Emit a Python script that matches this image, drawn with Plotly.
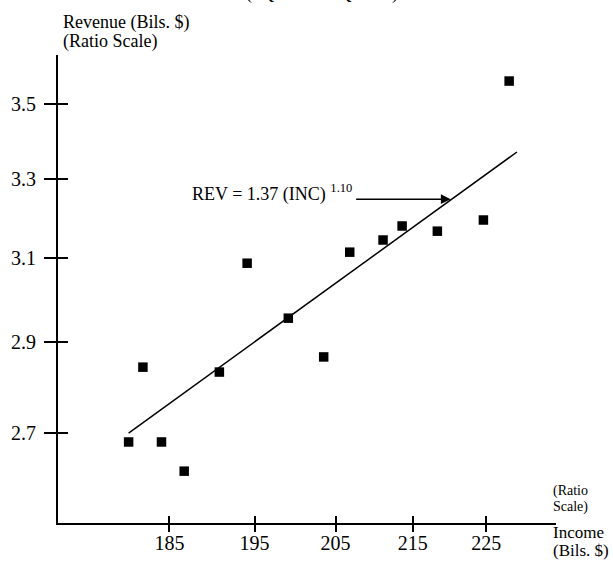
import math
import plotly.graph_objects as go

# ---- data ----
income = [180.4, 182.0, 184.1, 186.7, 190.8, 194.1, 199.1, 203.5, 206.8, 211.1, 213.6, 218.3, 224.6, 228.2]
revenue = [2.681, 2.844, 2.681, 2.620, 2.833, 3.087, 2.956, 2.867, 3.114, 3.144, 3.179, 3.166, 3.194, 3.564]
fit_income = [180.4, 229.3]
fit_revenue = [2.700, 3.370]
x_ticks = [185, 195, 205, 215, 225]
y_ticks = [2.7, 2.9, 3.1, 3.3, 3.5]
x_range = [172.7, 234.9]
y_range = [2.515, 3.638]
arrow_point = (220.1, 3.247)
label_point = (207.3, 3.247)

FONT = "Liberation Serif"
L = lambda v: math.log10(v)

fig = go.Figure()
fig.add_trace(go.Scatter(x=fit_income, y=fit_revenue, mode="lines",
                         line=dict(color="black", width=1.5), hoverinfo="skip", showlegend=False))
fig.add_trace(go.Scatter(x=income, y=revenue, mode="markers",
                         marker=dict(symbol="square", size=9.5, color="black"), showlegend=False))
# hidden trace for overlay axes (inner half of crossing ticks)
fig.add_trace(go.Scatter(x=fit_income, y=fit_revenue, mode="lines", xaxis="x2", yaxis="y2",
                         line=dict(color="rgba(0,0,0,0)"), hoverinfo="skip", showlegend=False))

common = dict(type="log", showgrid=False, zeroline=False, linecolor="black", linewidth=2,
              tickcolor="black", tickwidth=1.5, automargin=False,
              tickfont=dict(family=FONT, size=20, color="black"))

fig.update_layout(
    width=613, height=561, autosize=False,
    margin=dict(l=58, r=57, t=55, b=38, pad=0, autoexpand=False),
    paper_bgcolor="white", plot_bgcolor="white",
    xaxis=dict(range=[L(x_range[0]), L(x_range[1])], tickvals=x_ticks, ticktext=[str(v) for v in x_ticks],
               showline=True, ticks="outside", ticklen=7, ticklabelstandoff=-6, **common),
    yaxis=dict(range=[L(y_range[0]), L(y_range[1])], tickvals=y_ticks, ticktext=[f"{v:.1f}" for v in y_ticks],
               showline=True, ticks="outside", ticklen=12, ticklabelstandoff=4, **common),
    xaxis2=dict(overlaying="x", matches="x", tickvals=x_ticks, showticklabels=False,
                showline=False, ticks="inside", ticklen=7, side="bottom", **common),
    yaxis2=dict(overlaying="y", matches="y", tickvals=y_ticks, showticklabels=False,
                showline=False, ticks="inside", ticklen=10, side="left", **common),
    font=dict(family=FONT, color="black"),
    showlegend=False,
)

ann = []
# clipped title at top
ann.append(dict(text="(1Q 1977 - 2Q 1986)", xref="paper", yref="paper", x=(322 - 58) / 498,
                y=(523 - 6) / 468, xanchor="center", yanchor="bottom", showarrow=False,
                font=dict(family=FONT, size=18)))
# y axis title
ann.append(dict(text="Revenue (Bils. $)", xref="paper", yref="paper", x=(61 - 58) / 498,
                y=(523 - 31) / 468, xanchor="left", yanchor="bottom", showarrow=False,
                font=dict(family=FONT, size=18), yshift=-4))
ann.append(dict(text="(Ratio Scale)", xref="paper", yref="paper", x=(61 - 58) / 498,
                y=(523 - 50) / 468, xanchor="left", yanchor="bottom", showarrow=False,
                font=dict(family=FONT, size=18), yshift=-4))
# x axis title
for txt, base, size in [("(Ratio", 498, 14), ("Scale)", 514, 14), ("Income", 541, 17), ("(Bils. $)", 559, 17)]:
    ann.append(dict(text=txt, xref="paper", yref="paper", x=(551 - 58) / 498,
                    y=(523 - base) / 468, xanchor="left", yanchor="bottom", showarrow=False,
                    font=dict(family=FONT, size=size), yshift=-int(size * 0.22)))
# equation label and arrow
ann.append(dict(text="REV = 1.37 (INC) <sup>1.10</sup>", x=L(label_point[0]), y=L(label_point[1]),
                xanchor="right", yanchor="middle", showarrow=False, font=dict(family=FONT, size=18),
                yshift=6))
ann.append(dict(text="", x=L(arrow_point[0]), y=L(arrow_point[1]), ax=-96, ay=0, showarrow=True,
                arrowhead=2, arrowsize=1.3, arrowwidth=1.5, arrowcolor="black"))
fig.update_layout(annotations=ann)

fig.write_html("out.html", config={"displayModeBar": False},
               post_script="document.body.style.margin='0';document.body.style.overflow='hidden';")
